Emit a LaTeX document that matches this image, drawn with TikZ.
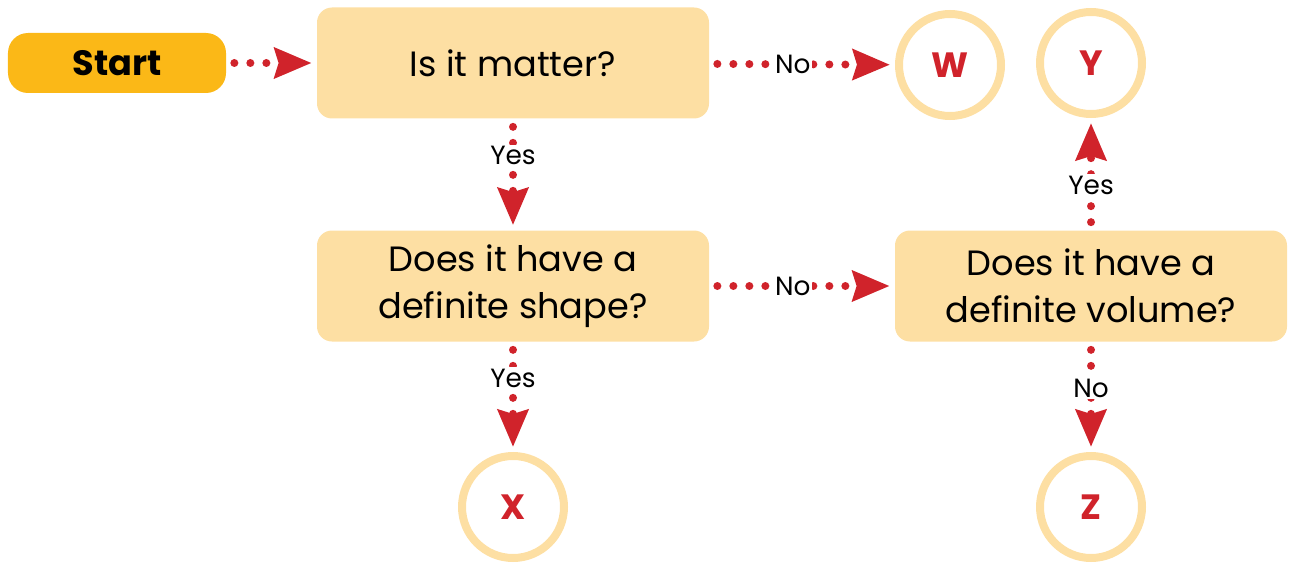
\documentclass[tikz,border=0pt]{standalone}
\usepackage{fontspec}
\setmainfont{Poppins}
\usetikzlibrary{positioning, arrows.meta}
\definecolor{boxfill}{HTML}{FDDFA3}
\definecolor{startfill}{HTML}{FBB817}
\definecolor{arrowred}{HTML}{D0232B}
\tikzset{
  startstop/.style={rectangle, rounded corners=0.4cm, minimum width=4.36cm, minimum height=1.2cm, text centered, fill=startfill, font=\fontsize{20}{27}\selectfont\bfseries},
  process/.style={rectangle, rounded corners=0.3cm, minimum width=7.84cm, minimum height=2.22cm, align=center, fill=boxfill, font=\fontsize{20}{27}\selectfont},
  result/.style={circle, draw=boxfill, line width=0.16cm, minimum size=2.04cm, text=arrowred, font=\fontsize{20}{24}\selectfont\bfseries},
  arrow/.style={arrowred, line width=0.16cm, line cap=round, dash pattern=on 0pt off 0.32cm, shorten <=0.16cm, shorten >=0.1cm, -{Stealth[length=0.74cm, width=0.6cm, inset=0.08cm]}},
  answer/.style={fill=white, inner sep=1pt, text=black, font=\fontsize{15}{18}\selectfont}
}

\begin{document}
\begin{tikzpicture}
    \useasboundingbox (0,0) rectangle (25.78,-11.26);

    % Inicio y preguntas
    \node[startstop] (start) at (2.34, -1.26) {Start};
    \node[process] (matter) at (10.26, -1.26) {Is it matter?};
    \node[process] (shape) at (10.26, -5.72) {Does it have a\\definite shape?};
    \node[process] (volume) at (21.82, -5.72) {Does it have a\\definite volume?};

    % Resultados
    \node[result] (W) at (19.0, -1.30) {W};
    \node[result] (Y) at (21.82, -1.26) {Y};
    \node[result] (X) at (10.26, -10.14) {X};
    \node[result] (Z) at (21.82, -10.14) {Z};

    % Flechas
    \draw[arrow] (start) -- (matter);
    \draw[arrow] (matter) -- node[answer, pos=0.45] {No} (W);
    \draw[arrow] (matter) -- node[answer, pos=0.33] {Yes} (shape);
    \draw[arrow] (shape) -- node[answer, pos=0.45] {No} (volume);
    \draw[arrow] (shape) -- node[answer, pos=0.33] {Yes} (X);
    \draw[arrow] (volume) -- node[answer, pos=0.4] {Yes} (Y);
    \draw[arrow] (volume) -- node[answer, pos=0.42] {No} (Z);

\end{tikzpicture}
\end{document}
